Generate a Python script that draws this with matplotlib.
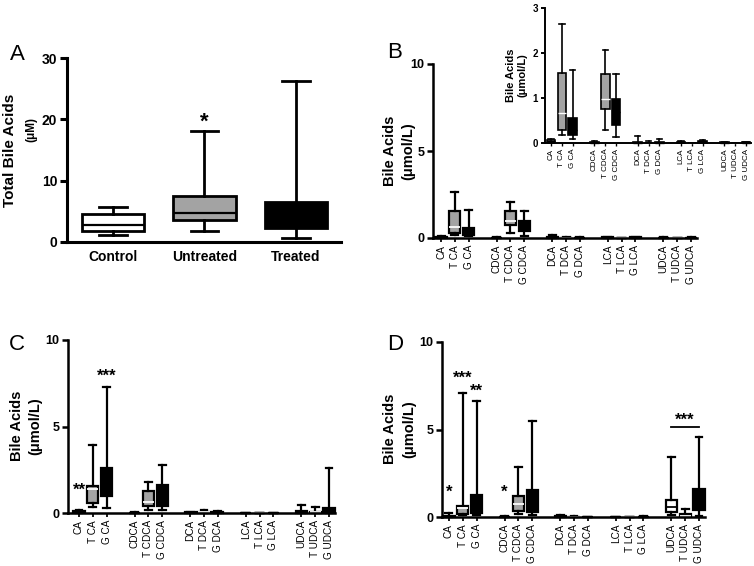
import numpy as np
import matplotlib
matplotlib.use("Agg")
import matplotlib.pyplot as plt

plt.rcParams['font.family'] = ['Liberation Sans', 'DejaVu Sans']

W, H = 754, 566

# Panel A: total bile acids
groups = ['Control', 'Untreated', 'Treated']
a_whislo = [1.1, 1.75, 0.65]
a_q1 = [1.8, 3.55, 2.35]
a_med = [2.73, 4.8, 4.5]
a_q3 = [4.64, 7.53, 6.55]
a_whishi = [5.73, 18.1, 26.3]

# Panels B-D: individual bile acids
acids = ['CA', 'T CA', 'G CA', 'CDCA', 'T CDCA', 'G CDCA', 'DCA', 'T DCA', 'G DCA',
         'LCA', 'T LCA', 'G LCA', 'UDCA', 'T UDCA', 'G UDCA']
acid_pos = [0, 1, 2, 4, 5, 6, 8, 9, 10, 12, 13, 14, 16, 17, 18]

b_whislo = [0.01, 0.18, 0.10, 0.0, 0.28, 0.14, 0.0, 0.0, 0.0, 0.0, 0.0, 0.0, 0.0, 0.0, 0.0]
b_q1 = [0.02, 0.30, 0.17, 0.0, 0.75, 0.40, 0.0, 0.0, 0.0, 0.01, 0.0, 0.01, 0.0, 0.0, 0.0]
b_med = [0.04, 0.66, 0.30, 0.01, 0.98, 0.70, 0.01, 0.01, 0.01, 0.02, 0.0, 0.02, 0.01, 0.0, 0.01]
b_q3 = [0.07, 1.56, 0.55, 0.02, 1.53, 0.97, 0.03, 0.01, 0.02, 0.03, 0.01, 0.04, 0.02, 0.0, 0.02]
b_whishi = [0.10, 2.65, 1.63, 0.05, 2.07, 1.53, 0.15, 0.04, 0.08, 0.04, 0.01, 0.06, 0.03, 0.01, 0.03]

c_whislo = [0.0, 0.35, 0.29, 0.0, 0.20, 0.15, 0.0, 0.0, 0.0, 0.0, 0.0, 0.0, 0.0, 0.0, 0.0]
c_q1 = [0.03, 0.58, 1.00, 0.0, 0.38, 0.42, 0.01, 0.02, 0.01, 0.0, 0.0, 0.0, 0.02, 0.01, 0.05]
c_med = [0.07, 1.40, 1.80, 0.01, 0.65, 1.00, 0.02, 0.04, 0.03, 0.0, 0.0, 0.0, 0.05, 0.03, 0.15]
c_q3 = [0.12, 1.58, 2.60, 0.02, 1.25, 1.60, 0.04, 0.07, 0.05, 0.01, 0.0, 0.01, 0.10, 0.06, 0.30]
c_whishi = [0.15, 3.95, 7.30, 0.03, 1.80, 2.79, 0.08, 0.15, 0.12, 0.02, 0.01, 0.02, 0.45, 0.32, 2.60]

d_whislo = [0.0, 0.10, 0.10, 0.0, 0.15, 0.10, 0.0, 0.0, 0.0, 0.0, 0.0, 0.0, 0.10, 0.0, 0.05]
d_q1 = [0.01, 0.20, 0.25, 0.0, 0.34, 0.30, 0.01, 0.0, 0.0, 0.0, 0.0, 0.0, 0.29, 0.03, 0.40]
d_med = [0.03, 0.50, 0.70, 0.01, 0.72, 0.90, 0.03, 0.01, 0.0, 0.0, 0.0, 0.01, 0.55, 0.08, 0.90]
d_q3 = [0.06, 0.63, 1.25, 0.02, 1.20, 1.54, 0.05, 0.01, 0.01, 0.01, 0.0, 0.01, 0.97, 0.15, 1.60]
d_whishi = [0.25, 7.10, 6.65, 0.06, 2.87, 5.50, 0.10, 0.03, 0.02, 0.02, 0.01, 0.03, 3.45, 0.45, 4.57]

GREY = '#a3a3a3'
group_colors = ['white', GREY, 'black']
acid_colors = ['white', GREY, 'black'] * 5


def px_axes(fig, left, top, right, bottom):
    return fig.add_axes([left / W, 1 - bottom / H, (right - left) / W, (bottom - top) / H])


def px_text(fig, x, y, s, **kw):
    fig.text(x / W, 1 - y / H, s, **kw)


def make_stats(lo, q1, med, q3, hi):
    return [dict(whislo=a, q1=b, med=c, q3=d, whishi=e) for a, b, c, d, e in zip(lo, q1, med, q3, hi)]


def draw_boxes(ax, stats, pos, colors, width, capw, lw, med_on_grey='white'):
    bp = ax.bxp(stats, positions=pos, widths=width, capwidths=capw, patch_artist=True,
                showfliers=False,
                boxprops=dict(linewidth=lw, edgecolor='black'),
                whiskerprops=dict(linewidth=lw, color='black'),
                capprops=dict(linewidth=lw, color='black'),
                medianprops=dict(linewidth=lw * 0.8, color='black'))
    for box, med, col in zip(bp['boxes'], bp['medians'], colors):
        box.set_facecolor(col)
        if col == GREY:
            med.set_color(med_on_grey)
    for art in bp['boxes'] + bp['whiskers'] + bp['caps'] + bp['medians']:
        art.set_clip_on(False)
    return bp


def style_axes(ax, spine_lw):
    for s in ['top', 'right']:
        ax.spines[s].set_visible(False)
    for s in ['left', 'bottom']:
        ax.spines[s].set_linewidth(spine_lw)


fig = plt.figure(figsize=(W / 100, H / 100), dpi=100)

# ---- Panel A
axA = px_axes(fig, 67, 58, 341, 242)
draw_boxes(axA, make_stats(a_whislo, a_q1, a_med, a_q3, a_whishi), [0, 1, 2],
           group_colors, 0.68, 0.3, 2.0, med_on_grey='black')
axA.set_xlim(-0.5, 2.49)
axA.set_ylim(0, 30)
axA.set_yticks([0, 10, 20, 30])
axA.set_xticks([0, 1, 2])
axA.set_xticklabels(groups, fontsize=10, fontweight='bold')
style_axes(axA, 2.2)
axA.tick_params(axis='y', length=5, width=2.2, labelsize=10, pad=2)
axA.tick_params(axis='x', length=0, pad=6)
for t in axA.get_yticklabels():
    t.set_fontweight('bold')
axA.text(1, 19.5, '*', ha='center', va='center', fontsize=16, fontweight='bold')
px_text(fig, 10, 150, 'Total Bile Acids', rotation=90, ha='center', va='center',
        fontsize=11, fontweight='bold')
px_text(fig, 31, 129, '(μM)', rotation=90, ha='center', va='center',
        fontsize=8.5, fontweight='bold')
px_text(fig, 17, 54, 'A', ha='center', va='center', fontsize=16)


def acid_panel(ax, lo, q1, med, q3, hi, xlim, lw=1.6, labsize=7.2, ticksize=9, spine_lw=1.8):
    draw_boxes(ax, make_stats(lo, q1, med, q3, hi), acid_pos, acid_colors, 0.8, 0.5, lw)
    ax.set_xlim(*xlim)
    ax.set_xticks(acid_pos)
    ax.set_xticklabels(acids, rotation=90, fontsize=labsize)
    style_axes(ax, spine_lw)
    ax.tick_params(axis='y', length=4, width=spine_lw, labelsize=ticksize, pad=2)
    ax.tick_params(axis='x', length=3, width=spine_lw * 0.7, pad=2)
    for t in ax.get_yticklabels():
        t.set_fontweight('bold')


STAR = dict(ha='center', va='center', fontsize=12, fontweight='bold')

# ---- Panel B
axB = px_axes(fig, 433, 64, 697, 238)
acid_panel(axB, b_whislo, b_q1, b_med, b_q3, b_whishi, (-0.58, 18.43))
axB.set_ylim(0, 10)
axB.set_yticks([0, 5, 10])
px_text(fig, 390, 151, 'Bile Acids', rotation=90, ha='center', va='center',
        fontsize=10.5, fontweight='bold')
px_text(fig, 408, 151, '(μmol/L)', rotation=90, ha='center', va='center',
        fontsize=10.5, fontweight='bold')
px_text(fig, 395, 52, 'B', ha='center', va='center', fontsize=16)

# inset in B
axI = px_axes(fig, 545, 8, 751, 143)
acid_panel(axI, b_whislo, b_q1, b_med, b_q3, b_whishi, (-0.56, 18.45),
           lw=1.2, labsize=5.8, ticksize=7, spine_lw=1.4)
axI.set_ylim(0, 3)
axI.set_yticks([0, 1, 2, 3])
axI.tick_params(axis='y', length=3)
axI.tick_params(axis='x', length=2)
px_text(fig, 511, 75, 'Bile Acids', rotation=90, ha='center', va='center',
        fontsize=8, fontweight='bold')
px_text(fig, 522, 75, '(μmol/L)', rotation=90, ha='center', va='center',
        fontsize=8, fontweight='bold')

# ---- Panel C
axC = px_axes(fig, 68, 340, 335, 513)
acid_panel(axC, c_whislo, c_q1, c_med, c_q3, c_whishi, (-0.79, 18.43))
axC.set_ylim(0, 10)
axC.set_yticks([0, 5, 10])
axC.text(0, 1.33, '**', **STAR)
axC.text(2, 7.9, '***', **STAR)
px_text(fig, 17, 426, 'Bile Acids', rotation=90, ha='center', va='center',
        fontsize=10.5, fontweight='bold')
px_text(fig, 35, 426, '(μmol/L)', rotation=90, ha='center', va='center',
        fontsize=10.5, fontweight='bold')
px_text(fig, 17, 344, 'C', ha='center', va='center', fontsize=16)

# ---- Panel D
axD = px_axes(fig, 442, 342, 705, 517)
acid_panel(axD, d_whislo, d_q1, d_med, d_q3, d_whishi, (-0.5, 18.43))
axD.set_ylim(0, 10)
axD.set_yticks([0, 5, 10])
axD.text(0, 1.43, '*', **STAR)
axD.text(1, 7.9, '***', **STAR)
axD.text(2, 7.2, '**', **STAR)
axD.text(4, 1.43, '*', **STAR)
axD.plot([16, 18], [5.14, 5.14], color='black', linewidth=1.3)
axD.text(17, 5.5, '***', **STAR)
px_text(fig, 390, 429, 'Bile Acids', rotation=90, ha='center', va='center',
        fontsize=10.5, fontweight='bold')
px_text(fig, 409, 429, '(μmol/L)', rotation=90, ha='center', va='center',
        fontsize=10.5, fontweight='bold')
px_text(fig, 395, 345, 'D', ha='center', va='center', fontsize=16)

fig.savefig('out.png', dpi=100)
